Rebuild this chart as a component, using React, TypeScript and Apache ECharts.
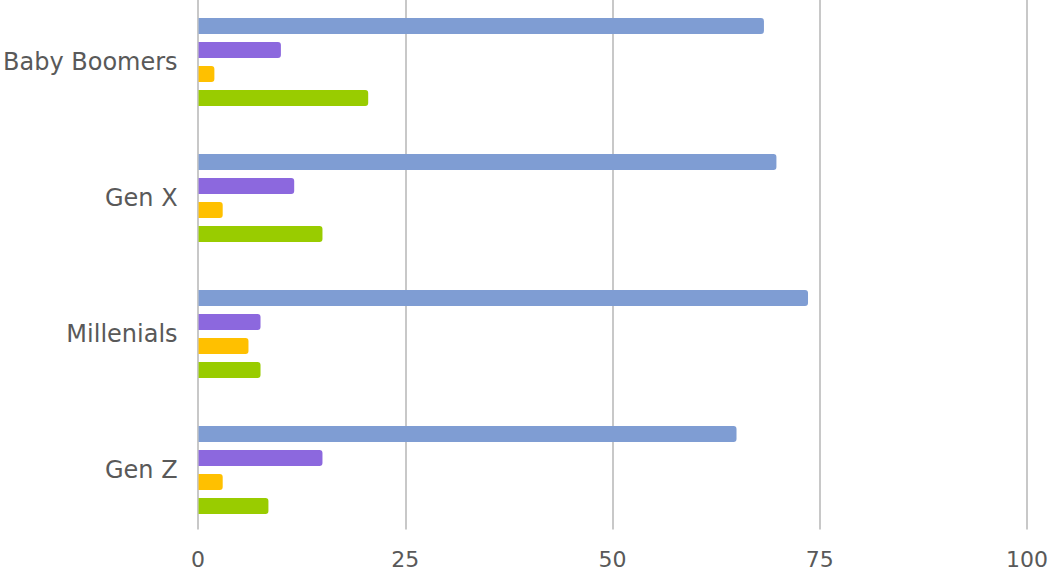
import React, { useEffect, useRef } from "react";
import * as echarts from "echarts";

const categories = ["Baby Boomers", "Gen X", "Millenials", "Gen Z"];
const seriesA = [68.0, 69.5, 73.3, 64.7];
const seriesB = [9.9, 11.5, 7.45, 14.9];
const seriesC = [1.9, 2.9, 6.0, 2.9];
const seriesD = [20.4, 14.9, 7.45, 8.4];
const seriesColors = ["#7f9dd3", "#8c68de", "#ffc000", "#99cc00"];
const xTicks = [0, 25, 50, 75, 100];

export default function App() {
  const ref = useRef<HTMLDivElement>(null);
  useEffect(() => {
    if (!ref.current) return;
    const chart = echarts.init(ref.current, null, { renderer: "svg" });
    const font = "'DejaVu Sans', sans-serif";
    const all = [seriesA, seriesB, seriesC, seriesD];
    chart.setOption({
      animation: false,
      backgroundColor: "#ffffff",
      grid: [
        { left: 198, right: 21, top: 0, bottom: 36 },
        { left: 198, right: 21, top: 6, bottom: 44.5 },
      ],
      xAxis: [
        { type: "value", gridIndex: 0, min: 0, max: 100, interval: 25, show: false },
        {
          type: "value",
          gridIndex: 1,
          min: xTicks[0],
          max: xTicks[xTicks.length - 1],
          interval: 25,
          axisLine: { show: false },
          axisTick: { show: false },
          splitLine: { show: true, lineStyle: { color: "#c8c8c8", width: 2 } },
          axisLabel: { color: "#595959", fontSize: 22, fontFamily: font, margin: 19 },
        },
      ],
      yAxis: [
        {
          type: "category",
          gridIndex: 0,
          data: categories,
          inverse: true,
          axisLine: { show: false },
          axisTick: { show: false },
          axisLabel: { color: "#595959", fontSize: 24, fontFamily: font, margin: 21 },
        },
        { type: "value", gridIndex: 1, show: false },
      ],
      series: all.map((d, i) => ({
        type: "bar",
        xAxisIndex: 0,
        yAxisIndex: 0,
        data: d,
        barWidth: 16,
        barGap: "50%",
        itemStyle: { color: seriesColors[i], borderRadius: [0, 3, 3, 0] },
      })),
    });
    return () => chart.dispose();
  }, []);
  return (
    <div
      ref={ref}
      style={{ position: "fixed", left: 0, top: -6, width: 1051, height: 580 }}
    />
  );
}
